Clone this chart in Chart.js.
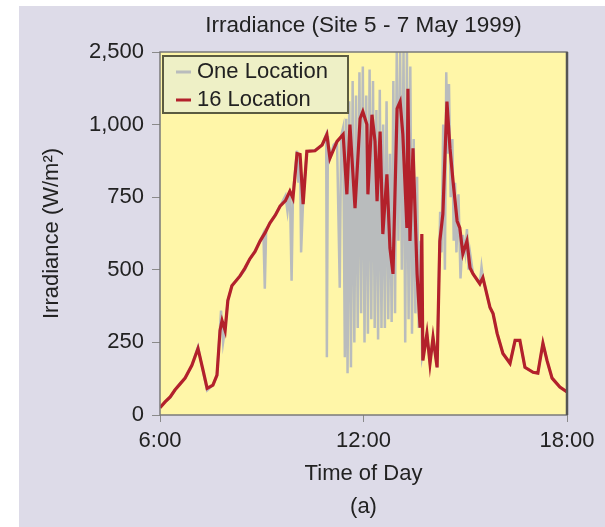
<!DOCTYPE html>
<html>
<head>
<meta charset="utf-8">
<script src="https://cdn.jsdelivr.net/npm/chart.js@4.4.1/dist/chart.umd.min.js"></script>
<style>
    body { margin: 0; background: #fff; }
    #wrap { position: relative; width: 605px; height: 527px; }
    #panel { position: absolute; left: 19px; top: 6px; width: 586px; height: 521px; background: #dddbe8; }
    #chart { position: absolute; left: 0; top: 0; }
</style>
</head>
<body>
<div id="wrap">
    <div id="panel"></div>
    <canvas id="chart" width="605" height="527"></canvas>
</div>
<script>
// time of day in hours, irradiance in W/m2
const oneLocHours = [6.00, 6.15, 6.30, 6.44, 6.60, 6.74, 6.94, 7.12, 7.27, 7.39, 7.56, 7.68, 7.77, 7.80, 7.86, 7.92, 8.00, 8.12, 8.36, 8.50, 8.65, 8.80, 8.95, 9.05, 9.09, 9.13, 9.24, 9.40, 9.54, 9.70, 9.76, 9.83, 9.88, 9.92, 10.04, 10.08, 10.13, 10.16, 10.22, 10.27, 10.33, 10.57, 10.78, 10.90, 10.92, 10.95, 11.01, 11.12, 11.22, 11.30, 11.34, 11.40, 11.45, 11.49, 11.53, 11.58, 11.63, 11.68, 11.73, 11.78, 11.83, 11.88, 11.93, 11.98, 12.03, 12.08, 12.13, 12.18, 12.23, 12.28, 12.33, 12.38, 12.43, 12.48, 12.53, 12.58, 12.63, 12.68, 12.73, 12.78, 12.83, 12.88, 12.93, 12.98, 13.03, 13.08, 13.13, 13.18, 13.23, 13.28, 13.33, 13.38, 13.43, 13.48, 13.53, 13.58, 13.63, 13.68, 13.73, 13.87, 13.96, 14.05, 14.17, 14.22, 14.26, 14.30, 14.35, 14.40, 14.44, 14.48, 14.52, 14.57, 14.62, 14.66, 14.70, 14.74, 14.80, 14.86, 14.93, 15.00, 15.05, 15.10, 15.14, 15.23, 15.43, 15.48, 15.52, 15.73, 15.82, 15.94, 16.11, 16.32, 16.47, 16.61, 16.76, 17.00, 17.14, 17.29, 17.41, 17.56, 17.79, 18.00];
const oneLocValues = [25, 45, 60, 86, 110, 127, 171, 235, 150, 85, 103, 137, 300, 360, 250, 300, 394, 445, 479, 500, 538, 565, 599, 625, 435, 640, 661, 690, 719, 755, 700, 771, 462, 760, 910, 800, 880, 560, 740, 820, 908, 912, 930, 966, 199, 960, 884, 930, 942, 438, 960, 990, 199, 1020, 144, 1080, 164, 1150, 250, 1100, 300, 1180, 350, 1200, 250, 1100, 280, 1190, 330, 1150, 300, 1050, 260, 1120, 300, 1000, 300, 1080, 330, 900, 320, 1150, 350, 1250, 600, 1250, 500, 1250, 250, 1250, 330, 1200, 280, 950, 350, 820, 300, 600, 200, 281, 178, 267, 164, 450, 700, 560, 1000, 500, 1180, 900, 1140, 750, 950, 600, 800, 560, 760, 470, 620, 560, 640, 500, 560, 486, 452, 510, 473, 370, 349, 281, 212, 178, 257, 257, 164, 147, 144, 247, 188, 127, 96, 79];

const sixteenLocHours = [6.00, 6.15, 6.30, 6.44, 6.60, 6.74, 6.94, 7.12, 7.27, 7.39, 7.56, 7.68, 7.77, 7.83, 7.92, 8.00, 8.12, 8.36, 8.50, 8.65, 8.80, 8.95, 9.10, 9.24, 9.40, 9.54, 9.70, 9.83, 9.92, 10.04, 10.13, 10.22, 10.33, 10.57, 10.78, 10.92, 11.01, 11.22, 11.40, 11.51, 11.60, 11.75, 11.90, 11.98, 12.10, 12.13, 12.25, 12.34, 12.40, 12.49, 12.57, 12.69, 12.78, 12.87, 12.99, 13.08, 13.16, 13.28, 13.31, 13.37, 13.46, 13.58, 13.67, 13.72, 13.75, 13.87, 13.96, 14.05, 14.17, 14.25, 14.34, 14.46, 14.55, 14.64, 14.76, 14.84, 14.93, 15.05, 15.14, 15.23, 15.43, 15.52, 15.73, 15.82, 15.94, 16.11, 16.32, 16.47, 16.61, 16.76, 17.00, 17.14, 17.29, 17.41, 17.56, 17.79, 18.00];
const sixteenLocValues = [25, 45, 62, 86, 108, 127, 171, 229, 154, 92, 103, 137, 291, 325, 291, 394, 445, 479, 505, 538, 562, 599, 628, 661, 688, 719, 738, 771, 747, 900, 897, 726, 908, 910, 930, 966, 884, 942, 966, 760, 1000, 712, 1021, 1045, 1000, 760, 1034, 942, 736, 976, 623, 829, 575, 486, 1055, 1079, 966, 644, 1123, 599, 918, 486, 301, 623, 188, 281, 178, 267, 164, 599, 692, 1079, 918, 805, 668, 644, 555, 599, 507, 486, 452, 473, 370, 349, 281, 212, 178, 257, 257, 164, 147, 144, 247, 188, 127, 96, 79];

const seriesLabels = ['One Location', '16 Location'];
const xTickValues = [6, 12, 18];
const xTickLabels = ['6:00', '12:00', '18:00'];
const yTickValues = [0, 250, 500, 750, 1000, 1250];
const yTickLabels = ['0', '250', '500', '750', '1,000', '2,500'];

const FONT = "'Liberation Sans', Arial, sans-serif";
const TEXT = '#222';

function toPoints(xs, ys) {
    return xs.map((x, i) => ({ x: x, y: ys[i] }));
}

// yellow plot area, frame and the legend box inside it
const plotFrame = {
    id: 'plotFrame',
    afterLayout(chart) {
        // centre the title over the plot area, not the whole canvas
        const t = chart.titleBlock;
        if (t) {
            t.left = chart.chartArea.left;
            t.right = chart.chartArea.right;
            t.width = t.right - t.left;
        }
    },
    beforeDatasetsDraw(chart) {
        const { ctx, chartArea: a } = chart;
        ctx.save();
        ctx.fillStyle = '#fff6a8';
        ctx.fillRect(a.left, a.top, a.right - a.left, a.bottom - a.top);
        ctx.restore();
    },
    afterDatasetsDraw(chart) {
        const { ctx, chartArea: a } = chart;
        ctx.save();
        ctx.strokeStyle = '#7a7a7a';
        ctx.lineWidth = 1.5;
        ctx.strokeRect(a.left, a.top, a.right - a.left, a.bottom - a.top);
        ctx.strokeStyle = '#555';
        ctx.lineWidth = 2.5;
        ctx.beginPath();
        ctx.moveTo(a.right, a.top);
        ctx.lineTo(a.right, a.bottom);
        ctx.stroke();

        // legend
        const bx = a.left + 3, by = a.top + 4, bw = 185, bh = 57;
        ctx.fillStyle = '#eef0c6';
        ctx.fillRect(bx, by, bw, bh);
        ctx.strokeStyle = '#5b5b40';
        ctx.lineWidth = 2;
        ctx.strokeRect(bx, by, bw, bh);
        ctx.font = '22px ' + FONT;
        ctx.textBaseline = 'middle';
        ctx.fillStyle = TEXT;
        chart.data.datasets.forEach((ds, i) => {
            const y = by + 15 + i * 28;
            ctx.strokeStyle = ds.borderColor;
            ctx.lineWidth = 3;
            ctx.beginPath();
            ctx.moveTo(bx + 13, y + 1);
            ctx.lineTo(bx + 28, y + 1);
            ctx.stroke();
            ctx.fillText(ds.label, bx + 34, y + 1);
        });
        ctx.restore();
    }
};

new Chart(document.getElementById('chart'), {
    type: 'line',
    data: {
        datasets: [
            {
                label: seriesLabels[0],
                data: toPoints(oneLocHours, oneLocValues),
                borderColor: '#b9bcbd',
                borderWidth: 2.5,
                pointRadius: 0,
                tension: 0,
                order: 2
            },
            {
                label: seriesLabels[1],
                data: toPoints(sixteenLocHours, sixteenLocValues),
                borderColor: '#b3212b',
                borderWidth: 3.2,
                pointRadius: 0,
                tension: 0,
                order: 1
            }
        ]
    },
    options: {
        responsive: false,
        animation: false,
        layout: { padding: { left: 0, right: 38, top: 0, bottom: 0 } },
        plugins: {
            legend: { display: false },
            tooltip: { enabled: false },
            title: {
                display: true,
                text: 'Irradiance (Site 5 - 7 May 1999)',
                color: TEXT,
                font: { family: FONT, size: 22.5, weight: 'normal' },
                padding: { top: 12, bottom: 13 }
            }
        },
        scales: {
            x: {
                type: 'linear',
                min: 6,
                max: 18,
                afterBuildTicks: scale => { scale.ticks = xTickValues.map(v => ({ value: v })); },
                afterFit: scale => { scale.height = 112; },
                ticks: {
                    callback: (v) => xTickLabels[xTickValues.indexOf(v)],
                    color: TEXT,
                    font: { family: FONT, size: 22 },
                    padding: 6,
                    maxRotation: 0
                },
                grid: { drawOnChartArea: false, tickLength: 7, color: '#8a8a8a' },
                border: { display: false },
                title: {
                    display: true,
                    text: ['Time of Day', '(a)'],
                    color: TEXT,
                    font: { family: FONT, size: 22, lineHeight: 1.5 },
                    padding: { top: 0, bottom: 4 }
                }
            },
            y: {
                min: 0,
                max: 1250,
                afterBuildTicks: scale => { scale.ticks = yTickValues.map(v => ({ value: v })); },
                afterFit: scale => { scale.width = 160; },
                ticks: {
                    callback: (v) => yTickLabels[yTickValues.indexOf(v)],
                    color: TEXT,
                    font: { family: FONT, size: 22 },
                    padding: 8
                },
                grid: { drawOnChartArea: false, tickLength: 8, color: '#8a8a8a' },
                border: { display: false },
                title: {
                    display: true,
                    text: 'Irradiance (W/m²)',
                    color: TEXT,
                    font: { family: FONT, size: 22 },
                    padding: { top: 39, bottom: 0 }
                }
            }
        }
    },
    plugins: [plotFrame]
});
</script>
</body>
</html>
